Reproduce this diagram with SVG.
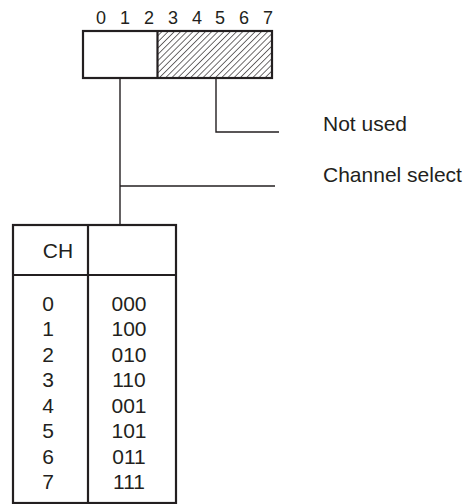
<svg xmlns="http://www.w3.org/2000/svg" width="472" height="504" viewBox="0 0 472 504">
<style>
text{font-family:"Liberation Sans",Arial,sans-serif;fill:#231f20}
.bit{font-size:18px;text-anchor:middle}
.t{font-size:21px}
.c{font-size:21px;text-anchor:middle}
.box{fill:#fff;stroke:#231f20;stroke-width:2.2}
.ln{fill:none;stroke:#231f20;stroke-width:1.4}
</style>
<defs>
<pattern id="hatch" patternUnits="userSpaceOnUse" width="4.4" height="4.4" patternTransform="rotate(45)">
<line x1="0" y1="0" x2="0" y2="4.4" stroke="#231f20" stroke-width="1.3"/>
</pattern>
</defs>
<rect width="472" height="504" fill="#fff"/>
<g id="bits">
<text class="bit" x="101" y="24">0</text>
<text class="bit" x="125" y="24">1</text>
<text class="bit" x="149" y="24">2</text>
<text class="bit" x="173" y="24">3</text>
<text class="bit" x="197" y="24">4</text>
<text class="bit" x="220" y="24">5</text>
<text class="bit" x="244" y="24">6</text>
<text class="bit" x="268" y="24">7</text>
</g>
<g id="register">
<rect x="158" y="31" width="114" height="47" fill="url(#hatch)"/>
<rect x="83" y="31" width="189" height="47" fill="none" stroke="#231f20" stroke-width="2.2"/>
<line x1="157.5" y1="31" x2="157.5" y2="78" stroke="#231f20" stroke-width="2.2"/>
</g>
<g id="connectors">
<polyline class="ln" points="120,78 120,225"/>
<polyline class="ln" points="216,78 216,132 279,132"/>
<line class="ln" x1="120" y1="186" x2="275" y2="186"/>
</g>
<g id="label-not-used"><text class="t" x="323" y="131">Not used</text></g>
<g id="label-channel-select"><text class="t" x="323" y="182">Channel select</text></g>
<g id="table">
<rect class="box" x="13" y="225" width="163" height="278"/>
<line x1="13" y1="275" x2="176" y2="275" stroke="#231f20" stroke-width="2.2"/>
<line x1="88" y1="225" x2="88" y2="503" stroke="#231f20" stroke-width="2.2"/>
<text class="c" x="58" y="258">CH</text>
<text class="c" x="48" y="311">0</text><text class="c" x="129" y="311">000</text>
<text class="c" x="48" y="336">1</text><text class="c" x="129" y="336">100</text>
<text class="c" x="48" y="362">2</text><text class="c" x="129" y="362">010</text>
<text class="c" x="48" y="387">3</text><text class="c" x="129" y="387">110</text>
<text class="c" x="48" y="413">4</text><text class="c" x="129" y="413">001</text>
<text class="c" x="48" y="438">5</text><text class="c" x="129" y="438">101</text>
<text class="c" x="48" y="464">6</text><text class="c" x="129" y="464">011</text>
<text class="c" x="48" y="489">7</text><text class="c" x="129" y="489">111</text>
</g>
</svg>
